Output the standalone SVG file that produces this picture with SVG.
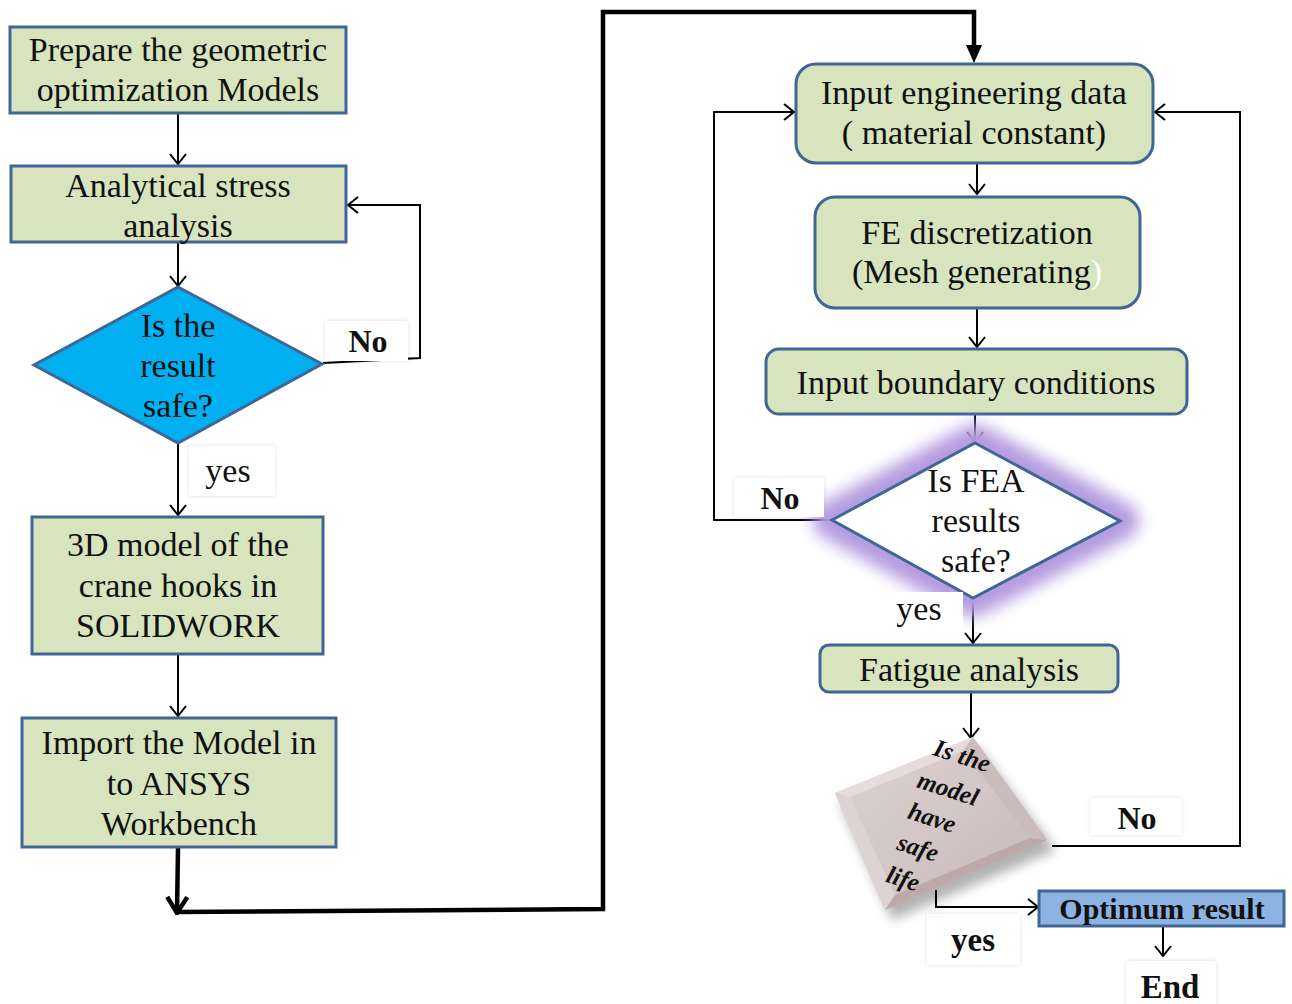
<svg xmlns="http://www.w3.org/2000/svg" width="1292" height="1004" viewBox="0 0 1292 1004">
<style>
.box{fill:#d7e4bd;stroke:#3f6695;stroke-width:3}
.t{font-family:"Liberation Serif","Times New Roman",serif;font-size:34px;fill:#111;text-anchor:middle}
.b{font-family:"Liberation Serif","Times New Roman",serif;font-weight:bold;fill:#111;text-anchor:middle}
.bi{font-family:"Liberation Serif","Times New Roman",serif;font-weight:bold;font-style:italic;font-size:25px;fill:#111;text-anchor:middle}
.ln{fill:none;stroke:#000;stroke-width:2}
.lab{fill:#fff;filter:url(#sh)}
</style>
<defs>
<marker id="a" viewBox="0 0 12 18" refX="11" refY="9" markerWidth="12" markerHeight="18" markerUnits="userSpaceOnUse" orient="auto">
<path d="M1,1 L11,9 L1,17" fill="none" stroke="#000" stroke-width="2"/>
</marker>
<marker id="tb" viewBox="0 0 20 24" refX="18" refY="12" markerWidth="20" markerHeight="24" markerUnits="userSpaceOnUse" orient="auto">
<path d="M2,2 L18,12 L2,22" fill="none" stroke="#000" stroke-width="4.5"/>
</marker>
<marker id="tf" viewBox="0 0 18 18" refX="17" refY="9" markerWidth="18" markerHeight="18" markerUnits="userSpaceOnUse" orient="auto">
<path d="M0,1 L18,9 L0,17 Z" fill="#000"/>
</marker>
<filter id="sh" x="-20%" y="-20%" width="140%" height="140%">
<feDropShadow dx="0" dy="0" stdDeviation="2" flood-color="#000" flood-opacity="0.12"/>
</filter>
<filter id="glow" x="-40%" y="-40%" width="180%" height="180%">
<feGaussianBlur stdDeviation="8"/>
</filter>
<filter id="soft" x="-30%" y="-30%" width="160%" height="160%">
<feGaussianBlur stdDeviation="6"/>
</filter>
<filter id="s1"><feGaussianBlur stdDeviation="1.2"/></filter>
<linearGradient id="pg" x1="0" y1="0" x2="1" y2="1">
<stop offset="0" stop-color="#ddd2d2"/>
<stop offset="0.5" stop-color="#d3c6c6"/>
<stop offset="1" stop-color="#c6b6b6"/>
</linearGradient>
</defs>

<g id="connectors">
<path class="ln" d="M178,114 V164" marker-end="url(#a)"/>
<path class="ln" d="M178,243 V286" marker-end="url(#a)"/>
<path class="ln" d="M323,363 L420,358 V205 H348" marker-end="url(#a)"/>
<path class="ln" d="M178,444 V515" marker-end="url(#a)"/>
<path class="ln" d="M178,655 V716" marker-end="url(#a)"/>
<path d="M178,848 L177,913" fill="none" stroke="#000" stroke-width="4.5" marker-end="url(#tb)"/>
<path d="M176,912 L603,909 V12 H974 V46" fill="none" stroke="#000" stroke-width="4.5" stroke-linejoin="miter"/>
<path d="M974,44 V62" fill="none" stroke="#000" stroke-width="1" marker-end="url(#tf)"/>
<path class="ln" d="M977,164 V194" marker-end="url(#a)"/>
<path class="ln" d="M977,309 V347" marker-end="url(#a)"/>
<path class="ln" d="M975,415 V442" marker-end="url(#a)"/>
<path class="ln" d="M832,520 H714 V112 H794" marker-end="url(#a)"/>
<path class="ln" d="M973,599 V643" marker-end="url(#a)"/>
<path class="ln" d="M971,693 V738" marker-end="url(#a)"/>
<path class="ln" d="M1052,846 H1240 V112 H1155" marker-end="url(#a)"/>
<path class="ln" d="M936,890 V907 H1038" marker-end="url(#a)"/>
<path class="ln" d="M1163,927 V956" marker-end="url(#a)"/>
</g>

<g id="n1">
<rect class="box" x="10" y="27" width="336" height="86"/>
<text class="t" x="178" y="61">Prepare the geometric</text>
<text class="t" x="178" y="101">optimization Models</text>
</g>

<g id="n2">
<rect class="box" x="11" y="166" width="335" height="76"/>
<text class="t" x="178" y="197">Analytical stress</text>
<text class="t" x="178" y="237">analysis</text>
</g>

<g id="d1">
<polygon points="178,287 322,364 178,443 34,365" fill="#00b0f0" stroke="#3f6695" stroke-width="3"/>
<text class="t" x="178" y="337">Is the</text>
<text class="t" x="178" y="377">result</text>
<text class="t" x="178" y="417">safe?</text>
</g>

<g id="lab-no1">
<rect class="lab" x="325" y="321" width="83" height="40"/>
<text class="b" font-size="32" x="368" y="352">No</text>
</g>

<g id="lab-yes1">
<rect class="lab" x="189" y="446" width="86" height="50"/>
<text class="t" x="228" y="482">yes</text>
</g>

<g id="n3">
<rect class="box" x="32" y="517" width="291" height="137"/>
<text class="t" x="178" y="556">3D model of the</text>
<text class="t" x="178" y="597">crane hooks in</text>
<text class="t" x="178" y="637">SOLIDWORK</text>
</g>

<g id="n4">
<rect class="box" x="22" y="718" width="314" height="129"/>
<text class="t" x="179" y="754">Import the Model in</text>
<text class="t" x="179" y="795">to ANSYS</text>
<text class="t" x="179" y="835">Workbench</text>
</g>

<g id="n5">
<rect class="box" x="796" y="64" width="357" height="99" rx="20"/>
<text class="t" x="974" y="104">Input engineering data</text>
<text class="t" x="974" y="144">( material constant)</text>
</g>

<g id="n6">
<rect class="box" x="815" y="197" width="325" height="111" rx="20"/>
<text class="t" x="977" y="244">FE discretization</text>
<text class="t" x="977" y="283">(Mesh generating<tspan fill="#fff">)</tspan></text>
</g>

<g id="n7">
<rect class="box" x="766" y="349" width="421" height="65" rx="13"/>
<text class="t" x="976" y="394">Input boundary conditions</text>
</g>

<g id="d2">
<polygon points="975,443 1120,521 973,598 832,520" fill="none" stroke="#b49be0" stroke-width="38" stroke-linejoin="round" filter="url(#glow)"/>
<polygon points="975,443 1120,521 973,598 832,520" fill="#fff" stroke="#3f6695" stroke-width="3"/>
<text class="t" x="976" y="492">Is FEA</text>
<text class="t" x="976" y="532">results</text>
<text class="t" x="976" y="572">safe?</text>
</g>

<g id="lab-no2">
<rect class="lab" x="734" y="478" width="90" height="39"/>
<text class="b" font-size="32" x="780" y="509">No</text>
</g>

<g id="lab-yes2">
<rect x="873" y="592" width="90" height="44" fill="#fff"/>
<line x1="882" y1="636" x2="958" y2="636" stroke="#c8d3e0" stroke-width="2" filter="url(#s1)"/>
<text class="t" x="919" y="620">yes</text>
</g>

<g id="n8">
<rect class="box" x="820" y="645" width="298" height="47" rx="9"/>
<text class="t" x="969" y="681">Fatigue analysis</text>
</g>

<g id="d3">
<polygon points="978,747 1056,850 892,920 840,803" fill="#000" opacity="0.3" filter="url(#soft)"/>
<polygon points="973,737 1047,840 885,910 835,793" fill="url(#pg)"/>
<polygon points="835,793 973,737 963,751 850,797" fill="#e6dcdc"/>
<polygon points="835,793 850,797 895,895 885,910" fill="#dcd3d3"/>
<polygon points="1047,840 885,910 895,895 1030,838" fill="#bda9a9"/>
<polygon points="973,737 1047,840 1030,838 963,751" fill="#cbbcbc"/>
<g transform="translate(962,756) rotate(18)"><text class="bi" y="8">Is the</text></g>
<g transform="translate(948,789) rotate(18)"><text class="bi" y="8">model</text></g>
<g transform="translate(932,818) rotate(18)"><text class="bi" y="8">have</text></g>
<g transform="translate(918,848) rotate(18)"><text class="bi" y="8">safe</text></g>
<g transform="translate(903,879) rotate(18)"><text class="bi" y="8">life</text></g>
</g>

<g id="lab-no3">
<rect class="lab" x="1090" y="798" width="92" height="37"/>
<text class="b" font-size="32" x="1137" y="829">No</text>
</g>

<g id="lab-yes3">
<rect class="lab" x="927" y="914" width="93" height="51"/>
<text class="b" font-size="33" x="973" y="951">yes</text>
</g>

<g id="n9">
<rect x="1039" y="891" width="245" height="35" fill="#8db3e2" stroke="#3f6695" stroke-width="3"/>
<text class="b" font-size="30" x="1162" y="919">Optimum result</text>
</g>

<g id="end">
<rect class="lab" x="1126" y="961" width="90" height="45"/>
<text class="b" font-size="33" x="1170" y="998">End</text>
</g>
</svg>
